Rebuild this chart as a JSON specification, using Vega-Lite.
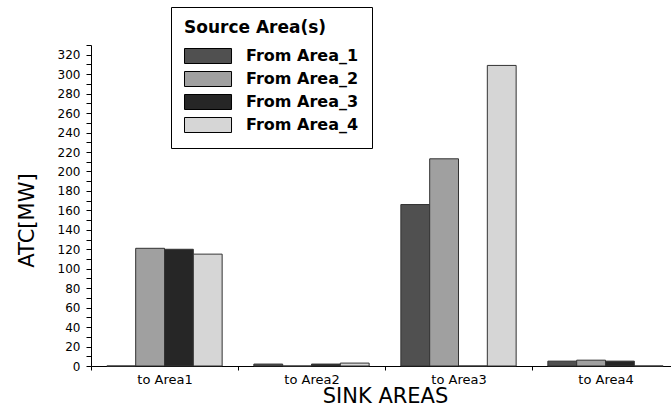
{
  "$schema": "https://vega.github.io/schema/vega-lite/v6.json",
  "autosize": "none",
  "width": 588,
  "height": 321,
  "padding": {"left": 91, "top": 45, "right": 0, "bottom": 52},
  "background": "white",
  "data": {
    "values": [
      {"sink": "to Area1", "source": "From Area_1", "atc": 0},
      {"sink": "to Area1", "source": "From Area_2", "atc": 121},
      {"sink": "to Area1", "source": "From Area_3", "atc": 120},
      {"sink": "to Area1", "source": "From Area_4", "atc": 115},
      {"sink": "to Area2", "source": "From Area_1", "atc": 2},
      {"sink": "to Area2", "source": "From Area_2", "atc": 0},
      {"sink": "to Area2", "source": "From Area_3", "atc": 2},
      {"sink": "to Area2", "source": "From Area_4", "atc": 3},
      {"sink": "to Area3", "source": "From Area_1", "atc": 166},
      {"sink": "to Area3", "source": "From Area_2", "atc": 213},
      {"sink": "to Area3", "source": "From Area_3", "atc": 0},
      {"sink": "to Area3", "source": "From Area_4", "atc": 309},
      {"sink": "to Area4", "source": "From Area_1", "atc": 5},
      {"sink": "to Area4", "source": "From Area_2", "atc": 6},
      {"sink": "to Area4", "source": "From Area_3", "atc": 5},
      {"sink": "to Area4", "source": "From Area_4", "atc": 0}
    ]
  },
  "mark": {"type": "bar", "stroke": "#333333", "strokeWidth": 1},
  "encoding": {
    "x": {
      "field": "sink",
      "type": "nominal",
      "scale": {"paddingInner": 0, "paddingOuter": 0},
      "axis": {
        "title": "SINK AREAS",
        "labelAngle": 0,
        "labelFont": "DejaVu Sans",
        "labelFontSize": 13,
        "labelColor": "black",
        "labelPadding": 3,
        "titleFont": "DejaVu Sans",
        "titleFontSize": 21,
        "titleFontWeight": "normal",
        "titleColor": "black",
        "titlePadding": -1,
        "domainColor": "black",
        "tickColor": "black",
        "tickBand": "extent",
        "tickSize": 4
      }
    },
    "xOffset": {
      "field": "source",
      "type": "nominal",
      "scale": {"paddingInner": 0, "paddingOuter": 0.55}
    },
    "y": {
      "field": "atc",
      "type": "quantitative",
      "scale": {"domain": [0, 330], "nice": false},
      "axis": {
        "title": "ATC[MW]",
        "values": [0,10,20,30,40,50,60,70,80,90,100,110,120,130,140,150,160,170,180,190,200,210,220,230,240,250,260,270,280,290,300,310,320,330],
        "labelExpr": "datum.value % 20 == 0 && datum.value <= 320 ? datum.label : ''",
        "grid": false,
        "labelFont": "DejaVu Sans",
        "labelFontSize": 12,
        "labelColor": "black",
        "labelPadding": 6,
        "tickSize": 5,
        "tickColor": "black",
        "domainColor": "black",
        "titleFont": "DejaVu Sans",
        "titleFontSize": 21,
        "titleFontWeight": "normal",
        "titleColor": "black",
        "titleX": -54,
        "titleY": 175
      }
    },
    "fill": {
      "field": "source",
      "type": "nominal",
      "scale": {
        "domain": ["From Area_1", "From Area_2", "From Area_3", "From Area_4"],
        "range": ["#505050", "#a0a0a0", "#262626", "#d6d6d6"]
      },
      "legend": {
        "title": "Source Area(s)",
        "orient": "none",
        "legendX": 80,
        "legendY": -38,
        "strokeColor": "black",
        "fillColor": "white",
        "padding": 13,
        "titleFont": "DejaVu Sans",
        "titleFontSize": 17,
        "titleFontWeight": "bold",
        "titleColor": "black",
        "titlePadding": 11,
        "labelFont": "DejaVu Sans",
        "labelFontSize": 16,
        "labelFontWeight": "bold",
        "labelColor": "black",
        "labelOffset": 46,
        "labelLimit": 300,
        "symbolType": "M-1,-1H5.27V1H-1Z",
        "symbolSize": 225,
        "symbolStrokeColor": "black",
        "symbolStrokeWidth": 1,
        "symbolOpacity": 1,
        "rowPadding": 3,
        "offset": 0
      }
    }
  },
  "config": {
    "view": {"stroke": null},
    "legend": {"symbolBaseFillColor": "white"}
  }
}
